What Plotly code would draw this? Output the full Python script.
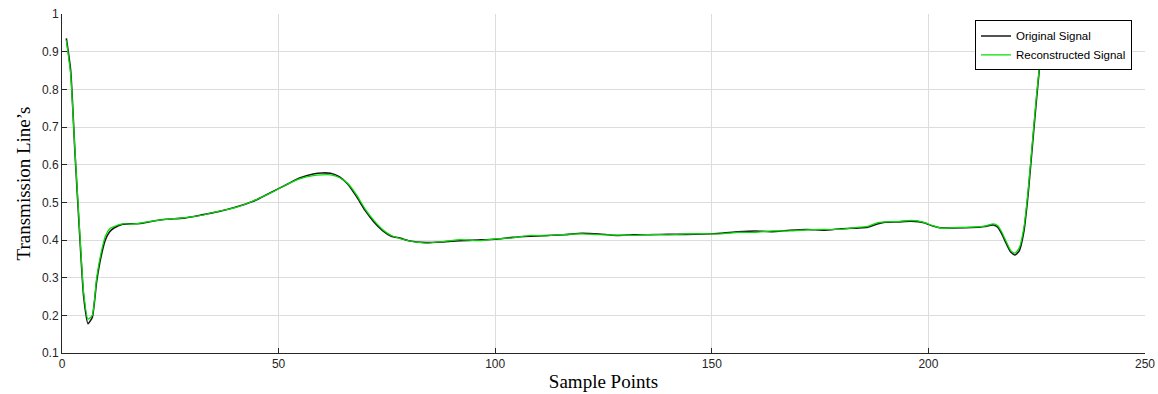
import plotly.graph_objects as go

# Sample positions and signal values
sample_idx = [1, 2, 3, 4, 5, 6, 7, 8, 9, 10, 11, 12, 14, 16, 18, 20, 24, 28, 32, 36,
              40, 44, 48, 52, 55, 58, 60, 62, 64, 66, 68, 70, 72, 74, 76, 78, 80, 84,
              88, 92, 96, 100, 104, 108, 112, 116, 120, 124, 128, 132, 136, 140, 144,
              148, 152, 156, 160, 164, 168, 172, 176, 180, 184, 186, 188, 190, 193,
              196, 199, 201, 203, 206, 210, 213, 215, 216, 217, 218, 219, 220, 221,
              222, 223, 224, 225, 226]

original = [0.935, 0.85, 0.63, 0.43, 0.25, 0.178, 0.195, 0.29, 0.355, 0.40, 0.422,
            0.432, 0.442, 0.443, 0.444, 0.448, 0.455, 0.458, 0.466, 0.475, 0.487,
            0.502, 0.525, 0.548, 0.565, 0.575, 0.578, 0.577, 0.568, 0.548, 0.515,
            0.478, 0.448, 0.425, 0.41, 0.405, 0.398, 0.393, 0.395, 0.398, 0.40,
            0.402, 0.407, 0.41, 0.412, 0.414, 0.418, 0.416, 0.412, 0.414, 0.414,
            0.415, 0.415, 0.416, 0.418, 0.422, 0.424, 0.422, 0.426, 0.428, 0.426,
            0.43, 0.432, 0.434, 0.442, 0.447, 0.448, 0.45, 0.446, 0.437, 0.432,
            0.432, 0.433, 0.436, 0.44, 0.434, 0.415, 0.39, 0.368, 0.36, 0.372, 0.42,
            0.52, 0.65, 0.78, 0.90]

reconstructed = [0.93, 0.84, 0.635, 0.44, 0.26, 0.19, 0.20, 0.30, 0.365, 0.41, 0.43,
                 0.436, 0.443, 0.442, 0.445, 0.449, 0.455, 0.459, 0.465, 0.476, 0.486,
                 0.503, 0.524, 0.548, 0.563, 0.571, 0.573, 0.573, 0.566, 0.55, 0.52,
                 0.482, 0.452, 0.428, 0.412, 0.404, 0.398, 0.392, 0.396, 0.401, 0.398,
                 0.403, 0.406, 0.412, 0.411, 0.415, 0.416, 0.414, 0.413, 0.412, 0.415,
                 0.414, 0.416, 0.417, 0.416, 0.42, 0.42, 0.424, 0.424, 0.427, 0.428,
                 0.428, 0.434, 0.436, 0.445, 0.448, 0.449, 0.452, 0.447, 0.438, 0.431,
                 0.433, 0.434, 0.437, 0.443, 0.438, 0.42, 0.395, 0.372, 0.365, 0.38,
                 0.43, 0.53, 0.66, 0.79, 0.90]

x_ticks = [0, 50, 100, 150, 200, 250]
y_ticks = [0.1, 0.2, 0.3, 0.4, 0.5, 0.6, 0.7, 0.8, 0.9, 1]
y_tick_text = ["0.1", "0.2", "0.3", "0.4", "0.5", "0.6", "0.7", "0.8", "0.9", "1"]

fig = go.Figure()
fig.add_trace(go.Scatter(
    x=sample_idx, y=original, mode="lines", name="Original Signal",
    line=dict(color="#1a1a1a", width=1.6, shape="spline", smoothing=0.5),
))
fig.add_trace(go.Scatter(
    x=sample_idx, y=reconstructed, mode="lines", name="Reconstructed Signal",
    line=dict(color="#00e000", width=1.2, shape="spline", smoothing=0.5),
))

tick_font = dict(family="Liberation Sans, Arial, sans-serif", size=12, color="#262626")
title_font = dict(family="Liberation Serif, Times New Roman, serif", size=19, color="#000000")

fig.update_layout(
    width=1158, height=394,
    margin=dict(l=62, r=13, t=14, b=41, autoexpand=False),
    paper_bgcolor="white", plot_bgcolor="white",
    showlegend=True,
    legend=dict(
        x=0.988, y=0.981, xanchor="right", yanchor="top",
        bgcolor="white", bordercolor="#000000", borderwidth=1,
        font=dict(family="Liberation Sans, Arial, sans-serif", size=11.5, color="#000000"),
        tracegroupgap=0, itemwidth=30,
    ),
    xaxis=dict(
        range=[0, 250], tickvals=x_ticks, ticktext=[str(v) for v in x_ticks],
        showgrid=True, gridcolor="#dcdcdc", gridwidth=1,
        showline=True, linecolor="#262626", linewidth=1, mirror=False,
        ticks="inside", ticklen=5, tickcolor="#262626",
        tickfont=tick_font, zeroline=False, automargin=False,
        title=dict(text="Sample Points", font=title_font, standoff=4),
    ),
    yaxis=dict(
        range=[0.1, 1], tickvals=y_ticks, ticktext=y_tick_text,
        showgrid=True, gridcolor="#dcdcdc", gridwidth=1,
        showline=True, linecolor="#262626", linewidth=1, mirror=False,
        ticks="inside", ticklen=5, tickcolor="#262626",
        tickfont=tick_font, zeroline=False, automargin=False,
        title=dict(text="Transmission Line’s", font=title_font, standoff=6),
    ),
)

fig.write_html("out.html")
